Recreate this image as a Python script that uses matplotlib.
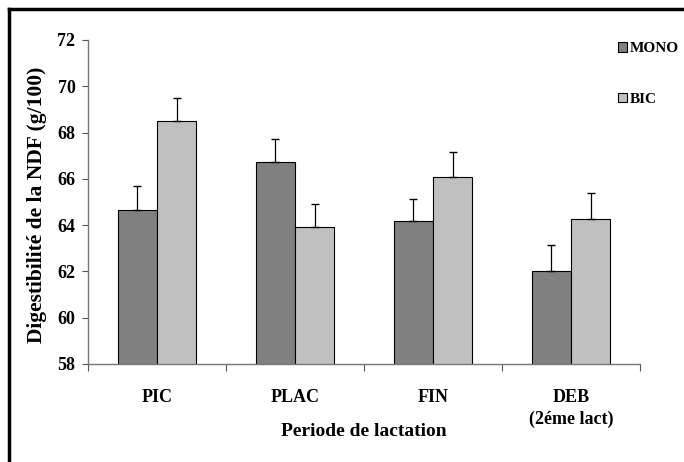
import numpy as np
import matplotlib
matplotlib.use('Agg')
import matplotlib.pyplot as plt
from matplotlib.lines import Line2D

plt.rcParams['font.family'] = ['Liberation Serif', 'DejaVu Serif']
plt.rcParams['font.weight'] = 'bold'

# values
categories = ['PIC', 'PLAC', 'FIN', 'DEB']
sub_label = '(2éme lact)'
mono = [64.65, 66.73, 64.2, 62.03]
bic = [68.5, 63.9, 66.07, 64.27]
mono_err = [1.05, 1.0, 0.95, 1.1]
bic_err = [1.0, 1.0, 1.1, 1.1]

W, H = 684, 462
fig = plt.figure(figsize=(W/100, H/100), dpi=100)
ax = fig.add_axes([88/W, 98/H, (640-88)/W, (364-40)/H])

x = np.arange(len(categories))
w = 0.286
ax.bar(x - w/2, mono, w, color='#808080', edgecolor='black', linewidth=0.8, label='MONO', zorder=2)
ax.bar(x + w/2, bic, w, color='#c0c0c0', edgecolor='black', linewidth=0.8, label='BIC', zorder=2)
ax.errorbar(x - w/2, mono, yerr=[np.zeros(4), mono_err], fmt='none', ecolor='black', elinewidth=0.9, capsize=3, capthick=1, zorder=3)
ax.errorbar(x + w/2, bic, yerr=[np.zeros(4), bic_err], fmt='none', ecolor='black', elinewidth=0.9, capsize=3, capthick=1, zorder=3)

ax.set_ylim(58, 72)
ax.set_yticks(np.arange(58, 73, 2))
ax.set_xlim(-0.5, 3.5)
# ticks on category boundaries, labels in the middle
ax.set_xticks(np.arange(-0.5, 4, 1))
ax.set_xticklabels([])
ax.set_xticks(x, minor=True)
ax.set_xticklabels(categories, minor=True, fontsize=13, fontweight='bold')
ax.tick_params(axis='x', which='minor', length=0, pad=18)
ax.tick_params(axis='x', which='major', direction='out', length=5, color='#555555')
ax.tick_params(axis='y', direction='out', length=4, color='#555555', labelsize=13, pad=5)
for lab in ax.get_yticklabels():
    lab.set_fontweight('bold')
# second line of the last category
ax.text(x[-1], (364-419)/324, sub_label, transform=ax.get_xaxis_transform(),
        ha='center', va='center', fontsize=13, fontweight='bold')

for s in ['top', 'right']:
    ax.spines[s].set_visible(False)
for s in ['left', 'bottom']:
    ax.spines[s].set_color('#777777')
    ax.spines[s].set_linewidth(1)

fig.text(37/W, 1 - 205/H, 'Digestibilité de la NDF (g/100)', rotation=90,
         ha='center', va='center', fontsize=15.5, fontweight='bold')
fig.text(364/W, 1 - 432/H, 'Periode de lactation', ha='center', va='center',
         fontsize=14, fontweight='bold')

leg = fig.legend(loc='upper left', bbox_to_anchor=(618/W, 1 - 42/H), frameon=False,
                 fontsize=11, handlelength=0.6, handleheight=0.6, handletextpad=0.15,
                 labelspacing=2.45, borderpad=0, borderaxespad=0)
for t in leg.get_texts():
    t.set_fontweight('bold')

# outer frame (only top and left visible)
fig.add_artist(Line2D([9/W, 1], [1 - 8.5/H, 1 - 8.5/H], color='black', linewidth=2.5, transform=fig.transFigure))
fig.add_artist(Line2D([9/W, 9/W], [0, 1 - 8.5/H], color='black', linewidth=2.5, transform=fig.transFigure))

fig.savefig('out.png', dpi=100)
